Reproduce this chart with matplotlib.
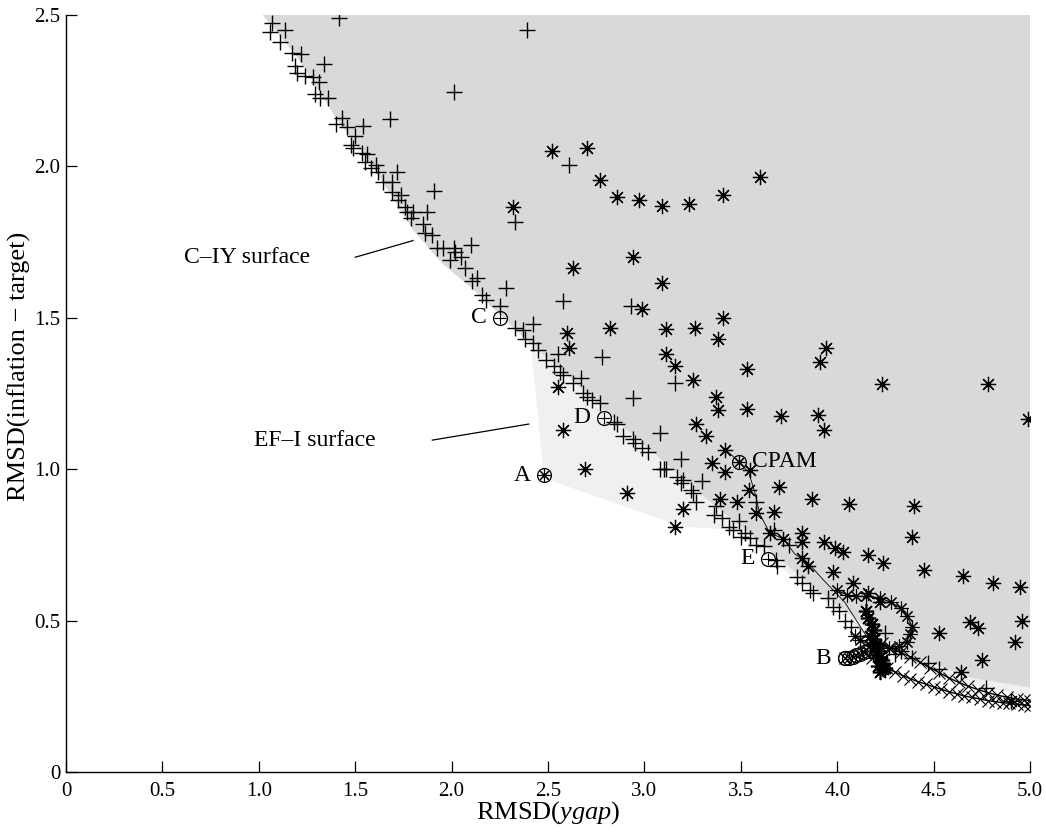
import matplotlib
matplotlib.use("Agg")
import matplotlib.pyplot as plt
import numpy as np

plt.rcParams['font.family'] = ['Liberation Serif', 'DejaVu Serif']
plt.rcParams['mathtext.fontset'] = 'custom'
plt.rcParams['mathtext.rm'] = 'Liberation Serif'
plt.rcParams['mathtext.it'] = 'Liberation Serif:italic'

# ---------------- data ----------------
# C-IY surface (dark region) lower boundary
ciy_x = [1.02, 1.20, 1.40, 1.60, 1.80, 1.95, 2.10, 2.25, 2.40, 2.60, 2.80, 3.00, 3.20, 3.40, 3.60, 3.80, 4.00, 4.20, 4.40, 4.70, 5.00]
ciy_y = [2.50, 2.36, 2.16, 1.99, 1.79, 1.68, 1.60, 1.51, 1.42, 1.31, 1.19, 1.08, 0.97, 0.86, 0.76, 0.65, 0.55, 0.46, 0.38, 0.31, 0.28]
# EF-I surface (light region) lower boundary
efi_x = [2.41, 2.48, 3.20, 3.45, 3.72, 4.00, 4.24, 4.60, 5.00]
efi_y = [1.42, 0.97, 0.81, 0.80, 0.67, 0.53, 0.40, 0.30, 0.25]

# '+' points
plus_x = [1.068, 1.058, 1.136, 1.416, 1.11, 1.17, 1.22, 1.19, 1.34, 1.20, 1.24, 1.28, 1.31, 1.29, 1.32, 1.36,
          1.40, 1.43, 1.46, 1.54, 1.68, 1.50, 1.48, 1.49, 1.535, 1.56, 1.55, 1.58, 1.61, 1.62, 1.645, 1.69,
          1.715, 1.69, 1.74, 1.72, 1.76, 1.77, 1.80, 1.79, 1.91, 2.01, 1.87, 1.85, 1.86, 1.90, 1.925, 1.955,
          2.01, 2.10, 2.39, 2.33, 1.99, 2.02, 2.05, 2.07, 2.105, 2.13, 2.16, 2.18, 2.25, 2.28, 2.33, 2.37,
          2.42, 2.38, 2.42, 2.45, 2.49, 2.53, 2.56, 2.58, 2.67, 2.55, 2.63, 2.68, 2.70, 2.73, 2.77, 2.78,
          2.84, 2.86, 2.89, 2.94, 2.95, 2.99, 3.02, 3.08, 3.11, 2.94, 3.08, 3.19, 3.17, 3.20, 3.24, 2.61,
          2.58, 2.93, 3.16, 3.10, 3.19, 3.25, 3.30, 3.27, 3.37, 3.36, 3.44, 3.49, 3.50, 3.55, 3.58, 3.62,
          3.58, 3.68, 3.69, 3.79, 3.82, 3.86, 3.875, 3.95, 3.98, 4.01, 4.04, 4.07, 3.75, 3.67, 4.25, 4.33,
          4.39, 4.47, 4.53, 4.77, 3.46, 3.52, 3.40, 4.12, 4.18, 4.30]
plus_y = [2.474, 2.444, 2.450, 2.490, 2.41, 2.375, 2.37, 2.33, 2.338, 2.31, 2.30, 2.295, 2.28, 2.24, 2.225, 2.225,
          2.14, 2.16, 2.13, 2.135, 2.155, 2.10, 2.07, 2.06, 2.044, 2.04, 2.015, 1.995, 2.005, 1.98, 1.95, 1.95,
          1.98, 1.917, 1.905, 1.89, 1.866, 1.85, 1.85, 1.83, 1.92, 2.246, 1.85, 1.81, 1.78, 1.775, 1.73, 1.73,
          1.73, 1.74, 2.45, 1.816, 1.69, 1.717, 1.70, 1.665, 1.62, 1.63, 1.575, 1.56, 1.54, 1.60, 1.466, 1.46,
          1.48, 1.43, 1.417, 1.394, 1.36, 1.34, 1.32, 1.31, 1.30, 1.38, 1.285, 1.25, 1.24, 1.23, 1.22, 1.37,
          1.155, 1.15, 1.11, 1.10, 1.087, 1.07, 1.057, 1.00, 1.00, 1.235, 1.12, 1.035, 0.975, 0.965, 0.93, 2.005,
          1.555, 1.54, 1.285, 1.00, 0.955, 0.92, 0.96, 0.89, 0.88, 0.85, 0.81, 0.83, 0.777, 0.773, 0.75, 0.747,
          0.89, 0.70, 0.68, 0.645, 0.625, 0.60, 0.59, 0.575, 0.545, 0.53, 0.50, 0.48, 0.75, 0.80, 0.46, 0.40,
          0.375, 0.36, 0.34, 0.278, 0.80, 0.79, 0.84, 0.45, 0.42, 0.39]

# '*' points
star_x = [2.52, 2.70, 2.77, 2.86, 2.97, 3.09, 3.23, 3.41, 3.60, 2.32, 2.94, 2.63, 3.09, 2.99, 3.41, 3.38,
          2.82, 3.11, 3.26, 2.60, 2.61, 3.11, 3.16, 3.25, 3.53, 3.94, 3.91, 3.37, 3.38, 3.53, 3.71, 3.90,
          3.93, 2.58, 3.27, 3.32, 2.69, 3.42, 3.35, 3.42, 3.55, 3.54, 3.70, 3.87, 4.06, 2.91, 3.20, 3.39,
          3.48, 3.58, 3.67, 4.23, 4.78, 4.99, 4.40, 4.39, 3.72, 3.82, 3.82, 3.93, 3.99, 4.03, 4.16, 4.24,
          4.45, 4.65, 4.81, 3.82, 3.85, 3.98, 4.95, 4.96, 4.92, 4.53, 4.69, 4.73, 4.75, 4.64, 2.55, 3.16,
          3.65, 4.08, 4.16, 4.22, 4.90]
star_y = [2.05, 2.06, 1.955, 1.90, 1.89, 1.87, 1.876, 1.905, 1.965, 1.866, 1.70, 1.665, 1.615, 1.53, 1.50, 1.43,
          1.466, 1.463, 1.466, 1.45, 1.40, 1.38, 1.34, 1.295, 1.33, 1.40, 1.355, 1.24, 1.195, 1.20, 1.175, 1.18,
          1.13, 1.13, 1.15, 1.11, 1.00, 1.065, 1.02, 0.99, 0.997, 0.93, 0.94, 0.90, 0.885, 0.92, 0.87, 0.90,
          0.89, 0.855, 0.86, 1.28, 1.28, 1.165, 0.88, 0.776, 0.77, 0.79, 0.76, 0.76, 0.74, 0.727, 0.717, 0.69,
          0.667, 0.647, 0.625, 0.707, 0.68, 0.66, 0.61, 0.50, 0.43, 0.46, 0.495, 0.475, 0.37, 0.33, 1.27, 0.81,
          0.79, 0.625, 0.59, 0.56, 0.235]

# trajectory loop near B (asterisk markers with line)
loop_x = [4.00, 4.05, 4.10, 4.15, 4.22, 4.28, 4.33, 4.36, 4.39, 4.38, 4.36, 4.32, 4.27, 4.22, 4.17, 4.12, 4.09]
loop_y = [0.60, 0.585, 0.58, 0.58, 0.575, 0.56, 0.54, 0.515, 0.48, 0.455, 0.43, 0.415, 0.41, 0.415, 0.42, 0.435, 0.45]

# trajectory CPAM -> B
traj_x = [3.42, 3.49, 3.54, 3.57, 3.60, 3.65, 3.72, 3.78, 3.85, 3.92, 3.98, 4.04, 4.08, 4.12, 4.16, 4.20]
traj_y = [1.065, 1.025, 0.99, 0.93, 0.85, 0.79, 0.77, 0.72, 0.69, 0.64, 0.60, 0.56, 0.52, 0.48, 0.44, 0.41]

# lower 'x' curve to the right edge
low_x = [4.14, 4.18, 4.22, 4.26, 4.30, 4.34, 4.38, 4.42, 4.46, 4.50, 4.54, 4.58, 4.62, 4.66, 4.70, 4.74, 4.78, 4.82, 4.86, 4.89, 4.93, 4.97, 5.00]
low_y = [0.395, 0.375, 0.355, 0.342, 0.33, 0.318, 0.308, 0.298, 0.29, 0.281, 0.273, 0.265, 0.258, 0.251, 0.246, 0.241, 0.236, 0.232, 0.229, 0.227, 0.224, 0.221, 0.219]

# upper 'x' curve to the right edge
up_x = [4.18, 4.23, 4.28, 4.33, 4.38, 4.43, 4.48, 4.53, 4.58, 4.63, 4.68, 4.73, 4.78, 4.83, 4.88, 4.93, 4.97, 5.00]
up_y = [0.44, 0.425, 0.41, 0.395, 0.38, 0.362, 0.345, 0.328, 0.31, 0.296, 0.283, 0.272, 0.262, 0.254, 0.247, 0.241, 0.238, 0.236]

# B cluster (circle-x chain and dense star blob)
bchain_x = [4.04, 4.06, 4.08, 4.10, 4.12, 4.14, 4.16]
bchain_y = [0.375, 0.378, 0.381, 0.385, 0.39, 0.395, 0.40]
blob_x = [4.17, 4.19, 4.20, 4.21, 4.22, 4.23, 4.24, 4.22, 4.21, 4.19, 4.18, 4.16, 4.15, 4.20, 4.23, 4.25]
blob_y = [0.45, 0.44, 0.42, 0.40, 0.38, 0.36, 0.34, 0.33, 0.35, 0.47, 0.49, 0.51, 0.53, 0.39, 0.37, 0.345]

# labelled points
lab_names = ['A', 'B', 'C', 'D', 'E', 'CPAM']
lab_x = [2.48, 4.04, 2.25, 2.79, 3.64, 3.49]
lab_y = [0.98, 0.375, 1.50, 1.17, 0.705, 1.025]

# ---------------- figure ----------------
fig = plt.figure(figsize=(10.46, 8.39), dpi=100)
ax = fig.add_axes([0.0631, 0.0799, 0.9216, 0.9022])

# light EF-I region (extends under the dark region)
lx = efi_x + [5.0, 5.0, 2.41]
ly = efi_y + [1.2, 1.5, 1.5]
ax.fill(lx, ly, color='#f0f0f0', lw=0, zorder=1)
# dark C-IY region
dx = [5.0] + ciy_x[::-1][:-1] + [ciy_x[0], 5.0]
dy = [ciy_y[-1]] + ciy_y[::-1][:-1] + [2.5, 2.5]
ax.fill(dx, dy, color='#d9d9d9', lw=0, zorder=1.5)

mk = dict(color='black', lw=0, linestyle='none', zorder=3)
star = (8, 2, 0)
ax.plot(traj_x, traj_y, color='black', lw=0.6, zorder=2.5)
ax.plot(loop_x, loop_y, color='black', lw=0.8, marker=star, ms=10, mew=0.8, zorder=3)
ax.plot(low_x, low_y, color='black', lw=1.0, marker='x', ms=8, mew=0.8, zorder=3)
ax.plot(up_x, up_y, color='black', lw=1.0, marker='x', ms=8, mew=0.8, zorder=3)
ax.plot(plus_x, plus_y, marker='+', ms=12, mew=1.0, **mk)
ax.plot(star_x, star_y, marker=star, ms=11, mew=0.9, **mk)
ax.plot(blob_x, blob_y, marker=star, ms=11, mew=1.2, **mk)
ax.plot(bchain_x, bchain_y, marker='o', ms=10, mfc='none', mec='black', mew=0.9, linestyle='none', zorder=3)
ax.plot(bchain_x, bchain_y, marker='x', ms=7, mew=0.8, **mk)

# labelled circle markers
for name, x, y in zip(lab_names, lab_x, lab_y):
    ax.plot([x], [y], marker='o', ms=10, mfc='none', mec='black', mew=0.9, linestyle='none', zorder=4)
    inner = star if name in ('A', 'CPAM') else ('x' if name == 'B' else '+')
    ax.plot([x], [y], marker=inner, ms=9, mew=0.8, **mk)

fs_lab = 17
for name, x, y in zip(lab_names, lab_x, lab_y):
    if name == 'CPAM':
        ax.text(x + 0.07, y, name, fontsize=fs_lab, ha='left', va='center', zorder=5)
    else:
        ax.text(x - 0.07, y, name, fontsize=fs_lab, ha='right', va='center', zorder=5)

# surface annotations
ax.text(0.94, 1.70, 'C\u2013IY surface', fontsize=fs_lab, ha='center', va='center')
ax.plot([1.50, 1.80], [1.70, 1.755], color='black', lw=0.9)
ax.text(1.29, 1.096, 'EF\u2013I surface', fontsize=fs_lab, ha='center', va='center')
ax.plot([1.90, 2.40], [1.096, 1.149], color='black', lw=0.9)

ax.set_xlim(0, 5)
ax.set_ylim(0, 2.5)
xt = [0, 0.5, 1.0, 1.5, 2.0, 2.5, 3.0, 3.5, 4.0, 4.5, 5.0]
yt = [0, 0.5, 1.0, 1.5, 2.0, 2.5]
ax.set_xticks(xt)
ax.set_xticklabels(['0'] + ['%.1f' % v for v in xt[1:]])
ax.set_yticks(yt)
ax.set_yticklabels(['0'] + ['%.1f' % v for v in yt[1:]])
ax.tick_params(direction='in', length=8, width=0.9, labelsize=15)
ax.tick_params(axis='x', pad=7)
ax.tick_params(axis='y', pad=4)
for s in ('top', 'right'):
    ax.spines[s].set_visible(False)
for s in ('left', 'bottom'):
    ax.spines[s].set_linewidth(1.0)

ax.set_xlabel(r'RMSD($\mathit{ygap}$)', fontsize=19)
ax.xaxis.set_label_coords(0.5, -0.036)
fig.text(0.0185, 1 - 366 / 839, 'RMSD(inflation \u2212 target)', fontsize=19,
         rotation=90, ha='center', va='center')

fig.savefig('out.png', dpi=100)
